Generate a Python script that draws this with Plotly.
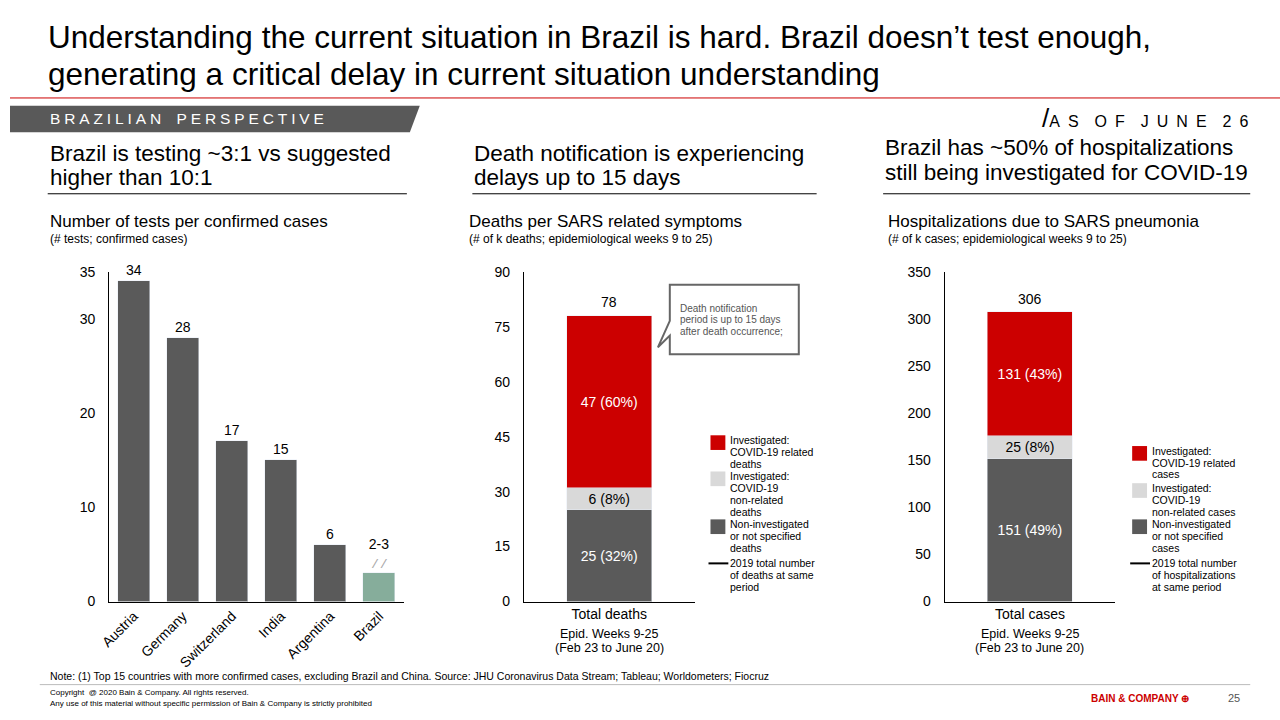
import plotly.graph_objects as go

countries = ["Austria", "Germany", "Switzerland", "India", "Argentina", "Brazil"]
tests = [34, 28, 17, 15, 6, 3]
test_labels = ["34", "28", "17", "15", "6", "2-3<br> "]

death_cat = ["Total deaths"]
death_nonInv = [25]
death_invNon = [6]
death_invCovid = [47]
death_labels = ["25 (32%)", "6 (8%)", "47 (60%)"]
death_total = 78
death_2019 = 2.7

hosp_cat = ["Total cases"]
hosp_nonInv = [151]
hosp_invNon = [25]
hosp_invCovid = [131]
hosp_labels = ["151 (49%)", "25 (8%)", "131 (43%)"]
hosp_total = 306
hosp_2019 = 25

RED = "#cc0000"; LG = "#d9d9d9"; DG = "#5a5a5a"; GREEN = "#86ad9b"
FONT = "Liberation Sans, Arial, sans-serif"
W, H = 1280, 720
def px(x): return x / W
def py(y): return 1 - y / H

fig = go.Figure()
fig.add_bar(x=countries, y=tests, marker_color=[DG]*5 + [GREEN], width=0.65,
            text=test_labels, textposition="outside", textfont=dict(size=14, color="black"),
            cliponaxis=False, xaxis="x", yaxis="y", showlegend=False)

for vals, col, lab, tc in [(death_nonInv, DG, death_labels[0], "white"),
                           (death_invNon, LG, death_labels[1], "black"),
                           (death_invCovid, RED, death_labels[2], "white")]:
    fig.add_bar(x=death_cat, y=vals, marker_color=col, width=0.5, text=[lab], textposition="inside",
                insidetextanchor="middle", textfont=dict(size=14, color=tc),
                xaxis="x2", yaxis="y2", showlegend=False)
fig.add_scatter(x=[-0.372, 0.372], y=[death_2019]*2, mode="lines", line=dict(color="black", width=2),
                xaxis="x2", yaxis="y2", showlegend=False)

for vals, col, lab, tc in [(hosp_nonInv, DG, hosp_labels[0], "white"),
                           (hosp_invNon, LG, hosp_labels[1], "black"),
                           (hosp_invCovid, RED, hosp_labels[2], "white")]:
    fig.add_bar(x=hosp_cat, y=vals, marker_color=col, width=0.5, text=[lab], textposition="inside",
                insidetextanchor="middle", textfont=dict(size=14, color=tc),
                xaxis="x3", yaxis="y3", showlegend=False)
fig.add_scatter(x=[-0.5, 0.38], y=[hosp_2019]*2, mode="lines", line=dict(color="#333333", width=2),
                xaxis="x3", yaxis="y3", showlegend=False)

ydom = [py(607), py(270)]
ax_common = dict(showgrid=False, zeroline=False, showline=True, linecolor="black", linewidth=1,
                 ticks="", tickfont=dict(size=14, color="black"))
fig.update_layout(
    autosize=True, margin=dict(l=0, r=0, t=0, b=0), barmode="stack", bargap=0,
    paper_bgcolor="white", plot_bgcolor="white", font=dict(family=FONT, color="black"),
    xaxis=dict(domain=[px(100), px(397)], anchor="y", tickangle=-45, **ax_common),
    yaxis=dict(domain=ydom, range=[0, 35], tickvals=[0, 10, 20, 30, 35], anchor="x", **ax_common),
    xaxis2=dict(domain=[px(518), px(690)], anchor="y2", range=[-0.5, 0.5], tickvals=[0],
                ticktext=["Total deaths"], **ax_common),
    yaxis2=dict(domain=ydom, range=[0, 90], tickvals=[0, 15, 30, 45, 60, 75, 90], anchor="x2", **ax_common),
    xaxis3=dict(domain=[px(942), px(1114)], anchor="y3", range=[-0.5, 0.5], tickvals=[0],
                ticktext=["Total cases"], **ax_common),
    yaxis3=dict(domain=ydom, range=[0, 350], tickvals=list(range(0, 351, 50)), anchor="x3", **ax_common),
)
for ax in ["yaxis", "yaxis2", "yaxis3"]:
    fig.layout[ax].ticklabelstandoff = 10

ann = []
shapes = []
def T(x, y, text, size, color="black", anchor="left", yanchor="middle", **kw):
    ann.append(dict(x=px(x), y=py(y), xref="paper", yref="paper", text=text, showarrow=False,
                    xanchor=anchor, yanchor=yanchor, font=dict(size=size, color=color, family=FONT),
                    align=kw.pop("align", anchor if anchor != "center" else "center"), **kw))
def lines(x, y, texts, size, color="black", pitch=12):
    for i, t in enumerate(texts):
        T(x, y + i * pitch, t, size, color)

T(36, 30, "Understanding the current situation in Brazil is hard. Brazil doesn’t test enough,", 31.5)
T(36, 67, "generating a critical delay in current situation understanding", 31.5)
shapes.append(dict(type="line", xref="paper", yref="paper", x0=0, x1=1, y0=py(92), y1=py(92),
                   line=dict(color=RED, width=1)))
shapes.append(dict(type="path", xref="paper", yref="paper",
                   path=f"M 0 {py(100)} L {px(413)} {py(100)} L {px(403)} {py(127)} L 0 {py(127)} Z",
                   fillcolor="#595959", line=dict(width=0)))
gap = "&#8197;"
banner = "&#8194;&#8194;".join(gap.join(w) for w in ["BRAZILIAN", "PERSPECTIVE"])
T(38, 113, banner, 15.5, "white")
T(1038, 112, "<span style='font-size:26px'>/</span>" + "&#8194;&#8194;".join("&#8194;".join(w) for w in ["AS", "OF", "JUNE", "26"]), 16)

for x0, x1, l1, l2, y1, y2 in [(38, 400, "Brazil is testing ~3:1 vs suggested", "higher than 10:1", 149, 173),
                               (466, 813, "Death notification is experiencing", "delays up to 15 days", 149, 173),
                               (880, 1250, "Brazil has ~50% of hospitalizations", "still being investigated for COVID-19", 143, 168)]:
    T(x0, y1, l1, 22.5)
    T(x0, y2, l2, 22.5)
    shapes.append(dict(type="line", xref="paper", yref="paper", x0=px(x0), x1=px(x1), y0=py(190), y1=py(190),
                       line=dict(color="black", width=1)))

T(38, 218, "Number of tests per confirmed cases", 17)
T(38, 236, "(# tests; confirmed cases)", 12)
T(461, 218, "Deaths per SARS related symptoms", 17)
T(461, 236, "(# of k deaths; epidemiological weeks 9 to 25)", 12)
T(883, 218, "Hospitalizations due to SARS pneumonia", 17)
T(883, 236, "(# of k cases; epidemiological weeks 9 to 25)", 12)

ann.append(dict(x=0, y=death_total, xref="x2", yref="y2", text=str(death_total), showarrow=False,
                yanchor="bottom", yshift=4, font=dict(size=14, color="black", family=FONT)))
ann.append(dict(x=0, y=hosp_total, xref="x3", yref="y3", text=str(hosp_total), showarrow=False,
                yanchor="bottom", yshift=4, font=dict(size=14, color="black", family=FONT)))
ann.append(dict(x="Brazil", y=3, xref="x", yref="y", text="<b>⁄  ⁄</b>", showarrow=False, yanchor="bottom",
                yshift=0, font=dict(size=12, color="#aaaaaa", family=FONT)))
T(604, 640, "Epid. Weeks 9-25", 12.5, anchor="center")
T(604, 655, "(Feb 23 to June 20)", 12.5, anchor="center")
T(1028, 640, "Epid. Weeks 9-25", 12.5, anchor="center")
T(1028, 655, "(Feb 23 to June 20)", 12.5, anchor="center")

# callout
shapes.append(dict(type="path", xref="paper", yref="paper", line=dict(color="#666666", width=2),
                   fillcolor="white",
                   path=(f"M {px(665)} {py(283)} L {px(795)} {py(283)} L {px(795)} {py(354)} L {px(665)} {py(354)} "
                         f"L {px(665)} {py(335)} L {px(653)} {py(347)} L {px(665)} {py(320)} Z")))
lines(673, 307, ["Death notification", "period is up to 15 days", "after death occurrence;"], 10, "#555555")

def legend(x, items, line_y, line_text):
    for y, col, txts in items:
        shapes.append(dict(type="rect", xref="paper", yref="paper", x0=px(x), x1=px(x + 15),
                           y0=py(y + 15), y1=py(y), fillcolor=col, line=dict(width=0)))
        lines(x + 18, y + 5, txts, 10.5)
    shapes.append(dict(type="line", xref="paper", yref="paper", x0=px(x - 2), x1=px(x + 18),
                       y0=py(line_y), y1=py(line_y), line=dict(color="black", width=2)))
    lines(x + 18, line_y, line_text, 10.5)

legend(706, [(437, RED, ["Investigated:", "COVID-19 related", "deaths"]),
             (474, LG, ["Investigated:", "COVID-19", "non-related", "deaths"]),
             (523, DG, ["Non-investigated", "or not specified", "deaths"])],
       568, ["2019 total number", "of deaths at same", "period"])
legend(1131, [(448, RED, ["Investigated:", "COVID-19 related", "cases"]),
              (486, LG, ["Investigated:", "COVID-19", "non-related cases"]),
              (523, DG, ["Non-investigated", "or not specified", "cases"])],
       568, ["2019 total number", "of hospitalizations", "at same period"])

T(38, 683, "Note: (1) Top 15 countries with more confirmed cases, excluding Brazil and China. Source: JHU Coronavirus Data Stream; Tableau; Worldometers; Fiocruz", 10.5)
shapes.append(dict(type="line", xref="paper", yref="paper", x0=px(30), x1=px(1250), y0=py(692), y1=py(692),
                   line=dict(color="#bbbbbb", width=1)))
T(38, 700, "Copyright  @ 2020 Bain & Company. All rights reserved.", 8)
T(38, 711, "Any use of this material without specific permission of Bain & Company is strictly prohibited", 8)
T(1190, 706, "<b>BAIN & COMPANY ⊕</b>", 10, RED, anchor="right")
T(1242, 706, "25", 11, "#555555", anchor="right")

fig.update_layout(annotations=ann, shapes=shapes)
fig.write_html("out.html", default_width="100vw", default_height="100vh",
               config={"responsive": True, "displayModeBar": False},
               post_script="document.body.style.margin='0';document.body.style.overflow='hidden';")
